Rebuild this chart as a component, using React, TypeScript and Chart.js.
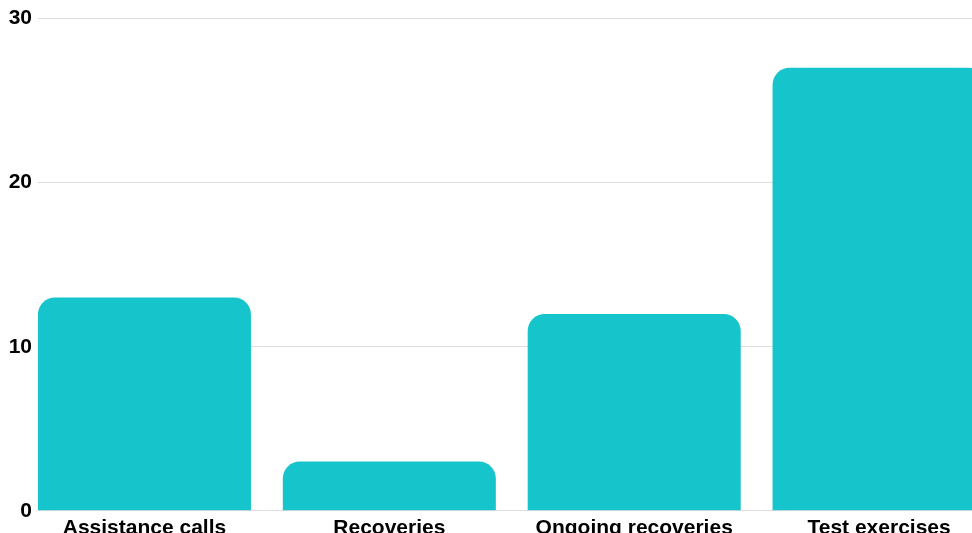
import React, { useEffect, useRef } from "react";
import { Chart, registerables } from "chart.js";

Chart.register(...registerables);

const categories = ["Assistance calls", "Recoveries", "Ongoing recoveries", "Test exercises"];
const values = [13, 3, 12, 27];
const yTicks = [0, 10, 20, 30];

const FONT = { family: "'Liberation Sans', Arial, sans-serif", size: 21, weight: "bold" as const };

export default function App() {
  const ref = useRef<HTMLCanvasElement>(null);
  useEffect(() => {
    const chart = new Chart(ref.current!, {
      type: "bar",
      data: {
        datasets: [
          {
            data: values.map((v, i) => ({ x: i, y: v })),
            backgroundColor: "#16C5CC",
            borderRadius: 17,
            borderSkipped: "bottom",
            categoryPercentage: 0.87,
            barPercentage: 1,
          },
        ],
      },
      options: {
        animation: false,
        responsive: false,
        devicePixelRatio: 1,
        plugins: { legend: { display: false }, tooltip: { enabled: false } },
        layout: { padding: { top: 6, right: 0, bottom: 0, left: 0 } },
        scales: {
          x: {
            type: "linear",
            offset: false,
            min: -0.4347,
            max: 3.6,
            grid: { display: false, offset: false },
            border: { display: true, color: "#dddddd" },
            afterBuildTicks: (s: any) => {
              s.ticks = categories.map((_, i) => ({ value: i }));
            },
            ticks: {
              autoSkip: false,
              maxRotation: 0,
              padding: -3,
              font: FONT,
              color: "#000000",
              callback: (v: any) => categories[Number(v)] ?? "",
            },
          },
          y: {
            min: 0,
            max: 30,
            afterBuildTicks: (s: any) => {
              s.ticks = yTicks.map((v) => ({ value: v }));
            },
            afterFit: (s: any) => {
              s.width = 30;
            },
            ticks: { padding: 6, font: FONT, color: "#000000" },
            grid: { color: "#dddddd", drawTicks: false },
            border: { display: false },
          },
        },
      },
    });
    return () => chart.destroy();
  }, []);

  return (
    <div style={{ position: "fixed", left: 0, top: 0, width: 972, height: 533, overflow: "hidden", background: "#fff" }}>
      <canvas ref={ref} width={1018} height={538} style={{ position: "absolute", left: 8, top: 0 }} />
    </div>
  );
}
